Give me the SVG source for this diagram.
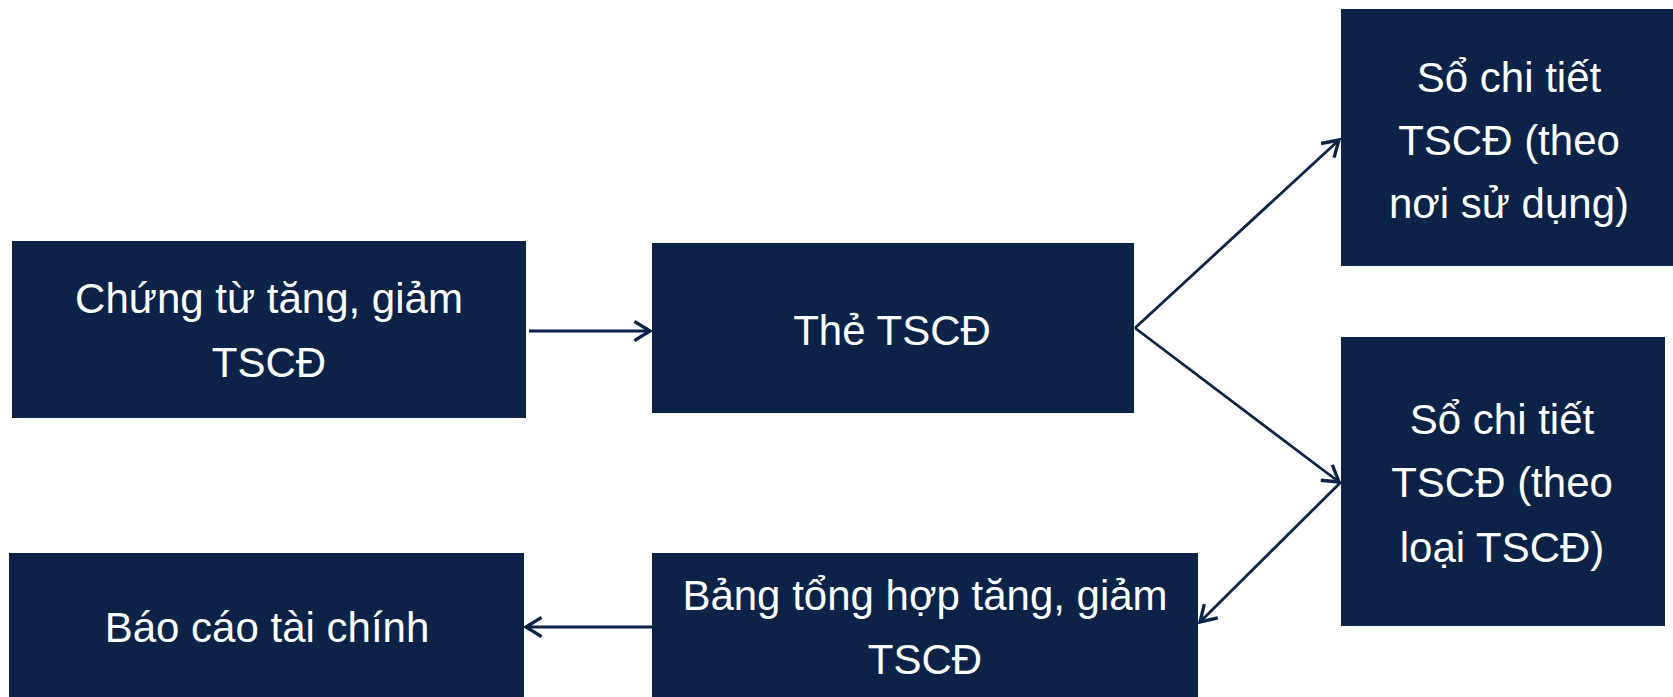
<svg xmlns="http://www.w3.org/2000/svg" width="1673" height="697" viewBox="0 0 1673 697">
<style>
.box{fill:#0c2347;}
.t{fill:#ffffff;font-family:"Liberation Sans",Arial,sans-serif;font-size:42px;text-anchor:middle;}
.c{stroke:#0c2347;stroke-width:2.8;fill:none;marker-end:url(#ah);}
</style>
<defs>
<marker id="ah" markerUnits="userSpaceOnUse" markerWidth="24" markerHeight="24" viewBox="-14 -10 16 20" refX="0" refY="0" orient="auto">
<path d="M-13,-8 L0,0 L-13,8" fill="none" stroke="#0c2347" stroke-width="2.8" stroke-linejoin="miter"/>
</marker>
</defs>
<rect width="1673" height="697" fill="#ffffff"/>
<g id="connectors">
<line class="c" x1="529" y1="331" x2="650" y2="331"/>
<line class="c" x1="1135" y1="328" x2="1339" y2="140"/>
<line class="c" x1="1135" y1="328" x2="1339" y2="482"/>
<line class="c" x1="1341" y1="482" x2="1200" y2="622"/>
<line class="c" x1="652" y1="627" x2="526" y2="627"/>
</g>
<g id="n1">
<rect class="box" x="12" y="241" width="514" height="177"/>
<text class="t" x="269" y="313">Chứng từ tăng, giảm</text>
<text class="t" x="269" y="377">TSCĐ</text>
</g>
<g id="n2">
<rect class="box" x="652" y="243" width="482" height="170"/>
<text class="t" x="892" y="345">Thẻ TSCĐ</text>
</g>
<g id="n3">
<rect class="box" x="1341" y="9" width="332" height="257"/>
<text class="t" x="1509" y="92">Sổ chi tiết</text>
<text class="t" x="1509" y="155">TSCĐ (theo</text>
<text class="t" x="1509" y="218">nơi sử dụng)</text>
</g>
<g id="n4">
<rect class="box" x="1341" y="337" width="324" height="289"/>
<text class="t" x="1502" y="434">Sổ chi tiết</text>
<text class="t" x="1502" y="497">TSCĐ (theo</text>
<text class="t" x="1502" y="562">loại TSCĐ)</text>
</g>
<g id="n5">
<rect class="box" x="652" y="553" width="546" height="150"/>
<text class="t" x="925" y="610">Bảng tổng hợp tăng, giảm</text>
<text class="t" x="925" y="674">TSCĐ</text>
</g>
<g id="n6">
<rect class="box" x="9" y="553" width="515" height="150"/>
<text class="t" x="267" y="642">Báo cáo tài chính</text>
</g>
</svg>
